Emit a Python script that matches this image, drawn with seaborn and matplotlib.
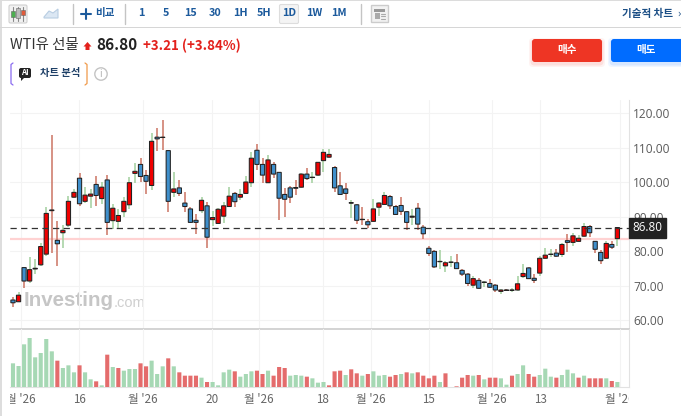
import numpy as np
import pandas as pd
import matplotlib.pyplot as plt
import seaborn as sns
from matplotlib.patches import FancyBboxPatch, Rectangle, Circle, Polygon
from matplotlib.transforms import Bbox

# candles
opens = [65.8,65.3,75.2,71.3,74.8,76.0,79.1,91.9,83.1,85.3,87.5,95.6,101.1,94.4,95.9,99.3,95.2,100.6,88.8,88.6,
         91.4,93.4,102.5,105.1,101.9,99.0,113.0,113.0,109.1,97.0,98.3,93.9,92.2,88.9,91.7,93.1,89.1,88.0,90.1,92.9,
         96.7,95.6,96.7,99.8,109.2,105.1,99.8,105.1,102.8,96.4,98.3,98.4,98.5,102.3,101.3,102.0,106.2,107.2,104.2,98.9,
         98.0,93.9,93.4,89.2,88.5,88.6,92.7,93.5,95.8,92.9,93.2,91.4,89.8,92.4,86.9,80.8,79.9,76.9,75.7,76.7,
         76.6,74.4,73.3,70.1,71.5,70.9,70.6,70.1,68.3,68.7,68.6,68.7,72.6,75.1,72.1,73.6,77.9,79.0,79.4,79.0,
         83.0,82.5,82.8,84.3,87.1,82.8,79.6,77.9,81.9,83.6]
highs = [66.8,68.0,75.5,78.4,77.6,82.2,92.8,113.6,88.7,87.5,95.9,97.9,102.7,98.5,98.0,101.7,100.0,101.9,93.6,92.1,
         95.6,101.5,105.5,107.1,103.5,114.1,115.7,118.0,109.3,103.0,100.7,97.0,92.7,90.7,95.6,94.3,91.5,92.4,94.1,98.5,
         97.2,97.9,101.8,108.8,111.1,106.9,107.8,105.9,102.8,98.2,98.8,100.7,102.7,104.0,103.0,105.9,109.6,109.6,104.6,103.0,
         99.8,94.8,93.6,92.9,89.4,95.1,94.3,97.2,96.2,93.3,95.6,91.7,92.1,93.8,87.4,81.5,80.2,80.3,77.2,78.6,
         79.1,74.8,73.5,72.8,72.2,71.4,71.9,70.4,69.0,69.0,69.4,72.8,76.2,75.3,73.4,78.6,80.8,80.5,80.5,82.2,
         84.9,85.2,84.6,88.2,87.5,83.0,80.3,83.0,83.0,87.1]
lows = [63.9,65.3,69.4,70.8,73.3,75.6,78.7,79.3,75.8,81.0,87.0,95.3,93.1,94.0,92.4,93.0,93.6,84.6,86.5,86.7,
        89.8,92.3,99.7,100.0,96.5,97.7,109.1,109.3,91.3,95.6,95.9,91.3,88.2,85.0,90.9,81.0,87.2,87.8,88.0,92.8,
        92.9,94.8,96.5,98.6,103.5,99.6,99.6,101.2,89.0,90.0,94.0,96.2,98.3,100.6,99.6,101.8,102.9,107.1,97.1,96.1,
        94.8,89.5,87.9,87.5,86.7,88.5,90.1,93.3,92.1,90.4,90.5,86.2,87.6,86.1,83.4,78.6,75.2,74.8,73.8,75.3,
        74.7,72.9,70.0,69.2,68.9,69.7,69.3,68.2,67.4,68.4,68.2,68.5,72.1,71.8,70.8,72.9,77.7,78.3,78.4,78.2,
        79.7,81.5,82.6,84.1,84.2,79.5,76.3,77.7,80.5,81.4]
closes = [65.0,67.2,71.3,74.6,75.0,81.3,90.9,91.7,82.1,86.0,94.4,97.0,93.7,96.2,96.5,96.1,98.5,88.3,92.4,90.3,
          94.4,99.8,103.1,101.6,100.2,111.8,112.5,112.9,94.4,98.0,96.7,92.9,88.3,88.3,94.7,84.0,89.7,92.1,93.1,95.9,
          94.3,96.4,100.0,106.9,105.1,102.0,106.4,102.3,95.3,95.0,95.6,98.2,102.3,101.0,101.4,105.7,108.6,108.0,98.3,96.4,
          96.7,94.0,88.9,89.1,87.6,92.2,93.9,96.1,93.1,90.6,91.5,88.3,90.1,87.8,85.0,79.3,75.4,77.0,76.6,76.8,
          74.9,73.3,70.6,72.0,69.2,71.0,69.5,68.7,68.7,68.6,68.7,70.5,73.5,72.0,71.5,77.9,78.8,79.1,78.5,81.9,
          82.5,84.4,83.7,87.1,85.3,80.5,77.2,82.2,81.1,86.8]
volumes = [71,63,128,147,89,102,144,107,79,57,65,44,65,44,23,17,5,97,60,57,
           49,54,54,71,62,79,39,62,86,62,44,34,34,34,28,15,15,5,44,52,
           47,31,39,47,49,39,49,34,60,57,34,36,34,31,26,13,15,5,47,49,
           36,53,41,34,39,47,34,36,31,36,39,44,41,44,34,26,34,15,41,0,
           2,28,36,34,36,23,28,28,26,7,34,39,65,39,31,36,55,31,28,36,
           52,41,28,34,26,26,26,26,18,15]
vol_dirs = list("ggggggggrgggrggrgrgrgggrrgggrgrrrrgrggggrgggrrgrrrgggrgggrrr"
                "grrgrgggrrgrgrrrrgrrrrrgrgrrggrggrrgggrgggrgrrrgrg")
price_ticks = [120, 110, 100, 90, 80, 70, 60]
date_ticks = [1.44, 11.9, 23.45, 35.9, 44.4, 55.9, 64.6, 75.0, 86.4, 95.1, 109.5]
date_labels = ["월 '26", "16", "월 '26", "20", "월 '26", "18", "월 '26", "15", "월 '26", "13", "월 '26"]
last_price = 86.80
prev_close = 83.59
intervals = ["1", "5", "15", "30", "1H", "5H", "1D", "1W", "1M"]

sns.set_style("white")
plt.rcParams['font.family'] = ['Noto Sans CJK KR', 'DejaVu Sans']

df = pd.DataFrame({"i": np.arange(len(opens)), "o": opens, "h": highs, "l": lows, "c": closes,
                   "v": volumes, "d": vol_dirs})
df["up"] = df["c"] >= df["o"]

W, H = 681, 416
fig = plt.figure(figsize=(W / 100, H / 100), dpi=100, facecolor="white")


def px_axes(left, top, right, bottom):
    return fig.add_axes([left / W, 1 - bottom / H, (right - left) / W, (bottom - top) / H])


xlim = (-0.54, 111.1)

# price pane
ax = px_axes(10, 100, 629, 329)
ax.set_xlim(*xlim)
ax.set_ylim(57.4, 123.77)
ax.vlines(df["i"][df["up"]], df["l"][df["up"]], df["h"][df["up"]], color="#a9d3a5", lw=1.2, zorder=3)
ax.vlines(df["i"][~df["up"]], df["l"][~df["up"]], df["h"][~df["up"]], color="#cf7f70", lw=1.2, zorder=3)
bodies = ax.bar(df["i"], (df["c"] - df["o"]).abs(), bottom=df[["o", "c"]].min(axis=1), width=0.76,
                color=["#f00000" if u else "#3f8fcb" for u in df["up"]], edgecolor="#222222",
                linewidth=0.75, zorder=4)
for b in bodies:
    b.set_snap(False)
ax.axhline(prev_close, color="#ffd2d2", lw=1.6, zorder=2)
ax.axhline(last_price, color="#333333", lw=0.9, dashes=(5, 3.5), zorder=5)
ax.set_yticks(price_ticks)
ax.set_yticklabels([f"{p:.2f}" for p in price_ticks], color="#5a5a5a", fontsize=8.6,
                   family=["Open Sans", "DejaVu Sans"])
ax.yaxis.tick_right()
ax.set_xticks(date_ticks)
ax.tick_params(axis="both", length=0, labelbottom=False, pad=3)
ax.grid(True, color="#f3f3f3", lw=0.8)
ax.set_axisbelow(True)
for side in ["top", "left"]:
    ax.spines[side].set_visible(False)
ax.spines["right"].set_color("#e2e2e2")
ax.spines["bottom"].set_color("#c8c8c8")
ax.spines["bottom"].set_linewidth(1.1)
ax.text(111.75, last_price, f"{last_price:.2f}", color="white", fontsize=8.4, va="center", ha="left",
        family=["Open Sans", "DejaVu Sans"], clip_on=False, zorder=8,
        bbox=dict(boxstyle="square,pad=0.3", fc="#222222", ec="#222222"))
ax.patch.set_alpha(0)

# volume pane
vax = px_axes(10, 329, 629, 387)
sns.barplot(data=df, x="i", y="v", color="#a6d8b4", native_scale=True, width=0.74, saturation=1,
            errorbar=None, linewidth=0, ax=vax, zorder=3)
vol_colors = {"g": "#a6d8b4", "r": "#e46c6c"}
for p, d in zip(vax.patches, vol_dirs):
    p.set_facecolor(vol_colors[d])
    p.set_snap(False)
vax.set_xlim(*xlim)
vax.set_ylim(0, 174)
vax.set_xlabel("")
vax.set_ylabel("")
vax.set_yticks([])
vax.set_xticks(date_ticks)
vax.set_xticklabels(date_labels, color="#666666", fontsize=8.4)
vax.tick_params(axis="x", length=0, pad=4)
vax.grid(True, axis="x", color="#f3f3f3", lw=0.8)
vax.set_axisbelow(True)
for side in ["top", "left"]:
    vax.spines[side].set_visible(False)
vax.spines["right"].set_color("#e2e2e2")
vax.spines["bottom"].set_color("#e2e2e2")
vax.patch.set_alpha(0)
clip = Bbox([[10, 0], [629, H]])
for lab in vax.get_xticklabels():
    lab.set_clip_on(True)
    lab.set_clip_box(clip)

# page furniture, placed in pixels
pg = fig.add_axes([0, 0, 1, 1], zorder=-1)
pg.set_xlim(0, W)
pg.set_ylim(H, 0)
pg.axis("off")

NAVY = "#1c5a9c"
pg.add_patch(Rectangle((0, 0), 1.5, H, color="#dddddd", lw=0))
pg.add_patch(Rectangle((0, 0), W, 1, color="#dcdcdc", lw=0))
pg.add_patch(Rectangle((0, 26.5), W, 1.2, color="#d6d6d6", lw=0))
for x in [72.5, 124.5, 360.5]:
    pg.plot([x, x], [4, 24], color="#c4c4c4", lw=1)

# candle icon
pg.add_patch(FancyBboxPatch((9, 5), 18, 18, boxstyle="round,pad=0,rounding_size=1.5", fc="#f1f1f1", ec="#d0d0d0", lw=0.8))
for x, y0, y1, c, b0, b1 in [(13, 7, 21, "#4caf50", 11, 17), (18, 7, 21, "#bbbbbb", 8, 18), (23, 7, 21, "#e05a3a", 10, 15)]:
    pg.plot([x, x], [y0, y1], color="#888888", lw=0.8)
    pg.add_patch(Rectangle((x - 1.7, b0), 3.4, b1 - b0, fc=c, ec="#666666", lw=0.4, zorder=3))
pg.add_patch(Polygon([[44, 17], [49, 11], [53, 13], [58, 9], [58, 18], [44, 18]], fc="#dbe7f3", ec="#b8cde2", lw=0.8))
pg.plot([81, 91], [14, 14], color=NAVY, lw=1.5)
pg.plot([86, 86], [9, 19], color=NAVY, lw=1.5)
pg.text(105, 13, "비교", fontsize=7.6, color=NAVY, fontweight="bold", ha="center", va="center")
pg.add_patch(FancyBboxPatch((279.5, 4.5), 19, 19, boxstyle="round,pad=0,rounding_size=1.5", fc="#f4f4f4", ec="#dddddd", lw=0.8))
for x, lab in zip([141.5, 166, 190.5, 215, 240, 264.5, 289, 314, 338.5], intervals):
    pg.text(x, 13.5, lab, fontsize=7.8, color=NAVY, fontweight="bold", ha="center", va="center")
pg.add_patch(Rectangle((371, 5), 17, 17, fc="#f2f2f2", ec="#cccccc", lw=1))
pg.add_patch(Rectangle((374, 9), 11, 2.5, fc="#999999", lw=0))
pg.add_patch(Rectangle((374.5, 13), 5, 6, fc="#aaaaaa", lw=0))
for y in [13.5, 16, 18.5]:
    pg.plot([381, 385], [y, y], color="#aaaaaa", lw=0.8)
pg.text(673, 13.5, "기술적 차트", fontsize=7.6, color="#1c4f86", fontweight="bold", ha="right", va="center")
pg.text(681, 13.5, "›", fontsize=8, color="#1c4f86", ha="right", va="center")

# headline
pg.text(10, 45.5, "WTI유 선물", fontsize=10.4, color="#333333", va="center")
pg.add_patch(Polygon([[87.5, 42], [91.5, 46.5], [89.5, 46.5], [89.5, 50], [85.5, 50], [85.5, 46.5], [83.5, 46.5]], fc="#e3211c", lw=0))
pg.text(96, 45.5, f"{last_price:.2f}", fontsize=11, color="#222222", fontweight="bold", va="center")
pg.text(143, 45.5, "+3.21 (+3.84%)", fontsize=9.6, color="#e3211c", fontweight="bold", va="center")

for x0, x1, c, lab in [(532, 602, "#ee3524", "매수"), (611, 688, "#006cff", "매도")]:
    for grow, a in [(3, 0.06), (1.5, 0.1)]:
        pg.add_patch(FancyBboxPatch((x0 - grow, 39 - grow + 2), x1 - x0 + 2 * grow, 23 + 2 * grow,
                                    boxstyle="round,pad=0,rounding_size=4", fc=c, alpha=a, lw=0))
    pg.add_patch(FancyBboxPatch((x0, 39), x1 - x0, 23, boxstyle="round,pad=0,rounding_size=3", fc=c, lw=0))
    pg.text(x0 + 35, 50.5, lab, fontsize=7.6, color="white", fontweight="bold", ha="center", va="center")

# AI chip
pg.plot([13, 11, 11, 13], [63, 64.5, 83.5, 85], color="#8a6cf0", lw=0.9)
pg.plot([85, 87, 87, 85], [63, 64.5, 83.5, 85], color="#f09a4a", lw=0.9)
pg.add_patch(FancyBboxPatch((19, 68), 12, 10, boxstyle="round,pad=0,rounding_size=2", fc="#222222", lw=0))
pg.add_patch(Polygon([[21, 77], [25, 77], [21, 81]], fc="#222222", lw=0))
pg.text(25, 72.8, "AI", fontsize=5.6, color="white", fontweight="bold", ha="center", va="center")
pg.text(39.5, 73, "차트 분석", fontsize=7.4, color="#1d3f66", fontweight="bold", va="center")
pg.add_patch(Circle((101, 74), 6.2, fc="white", ec="#c4c4c4", lw=1))
pg.text(101, 74, "i", fontsize=7, color="#b4b4b4", ha="center", va="center")

# watermark sits under the candles
pg.text(23.5, 301, "Investing", fontsize=14.8, color="#c6c6c6", fontweight="bold", va="center",
        family=["Liberation Sans", "DejaVu Sans"])
pg.text(114, 303, ".com", fontsize=10.5, color="#cfcfcf", va="center", family=["Liberation Sans", "DejaVu Sans"])

fig.savefig("out.png", dpi=100)
